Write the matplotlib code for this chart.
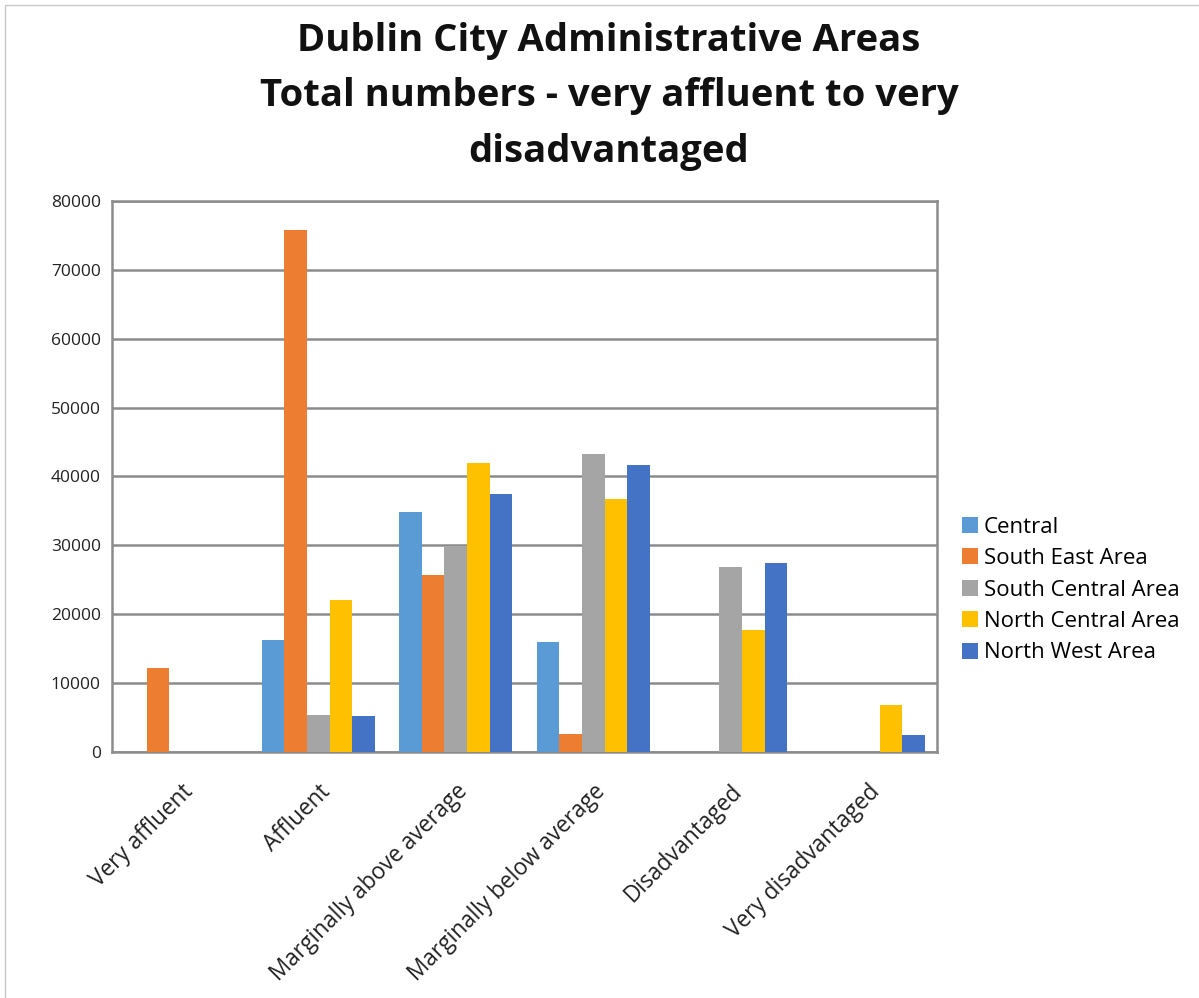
import numpy as np
import matplotlib
matplotlib.use('Agg')
import matplotlib.pyplot as plt
from matplotlib.patches import Rectangle

# 数据
categories = ['Very affluent', 'Affluent', 'Marginally above average',
              'Marginally below average', 'Disadvantaged', 'Very disadvantaged']
series_names = ['Central', 'South East Area', 'South Central Area',
                'North Central Area', 'North West Area']
central = [0, 16300, 34800, 16000, 0, 0]
south_east = [12200, 75800, 25700, 2600, 0, 0]
south_central = [0, 5300, 29800, 43200, 26800, 0]
north_central = [0, 22100, 41900, 36800, 17700, 6800]
north_west = [0, 5200, 37400, 41700, 27500, 2500]
y_ticks = [0, 10000, 20000, 30000, 40000, 50000, 60000, 70000, 80000]

colors = ['#5B9BD5', '#ED7D31', '#A5A5A5', '#FFC000', '#4472C4']

plt.rcParams['font.family'] = ['Open Sans', 'DejaVu Sans']

fig = plt.figure(figsize=(11.99, 9.98), dpi=100)
ax = fig.add_axes([112 / 1199, 1 - 752 / 998, 825 / 1199, 551 / 998])

# 外框
fig.patches.append(Rectangle((5 / 1199, -0.05), 1.2, (998 - 5) / 998 + 0.05,
                             transform=fig.transFigure, fill=False,
                             edgecolor='#c8c8c8', linewidth=1))

all_series = [central, south_east, south_central, north_central, north_west]
x = np.arange(len(categories))
bar_w = 0.165
for i, (name, vals) in enumerate(zip(series_names, all_series)):
    offset = (i - 2) * bar_w
    ax.bar(x + offset, vals, width=bar_w, color=colors[i], label=name, zorder=3)

ax.set_xlim(-0.5, len(categories) - 0.5)
ax.set_ylim(0, 80000)
ax.set_yticks(y_ticks)
ax.set_yticklabels([str(v) for v in y_ticks], fontsize=12.5, color='#222222')
ax.yaxis.grid(True, color='#8c8c8c', linewidth=1.8, zorder=0)
ax.set_axisbelow(True)
ax.tick_params(axis='both', length=0)
ax.tick_params(axis='y', pad=8)

ax.set_xticks(x)
ax.set_xticklabels(categories, rotation=45, ha='right', rotation_mode='anchor',
                   fontsize=16.3, color='#222222')
ax.tick_params(axis='x', pad=20)

for s in ax.spines.values():
    s.set_color('#8c8c8c')
    s.set_linewidth(1.8)

fig.text(0.508, 0.978, 'Dublin City Administrative Areas\nTotal numbers - very affluent to very\ndisadvantaged',
         ha='center', va='top', fontsize=27.5, fontweight='bold', linespacing=1.6,
         color='#111111')

ax.legend(loc='center left', bbox_to_anchor=(1.03, 0.294), frameon=False,
          fontsize=16, handlelength=0.75, handleheight=0.75, handletextpad=0.25,
          labelspacing=0.47, borderaxespad=0, borderpad=0)

fig.savefig('out.png', dpi=100)
